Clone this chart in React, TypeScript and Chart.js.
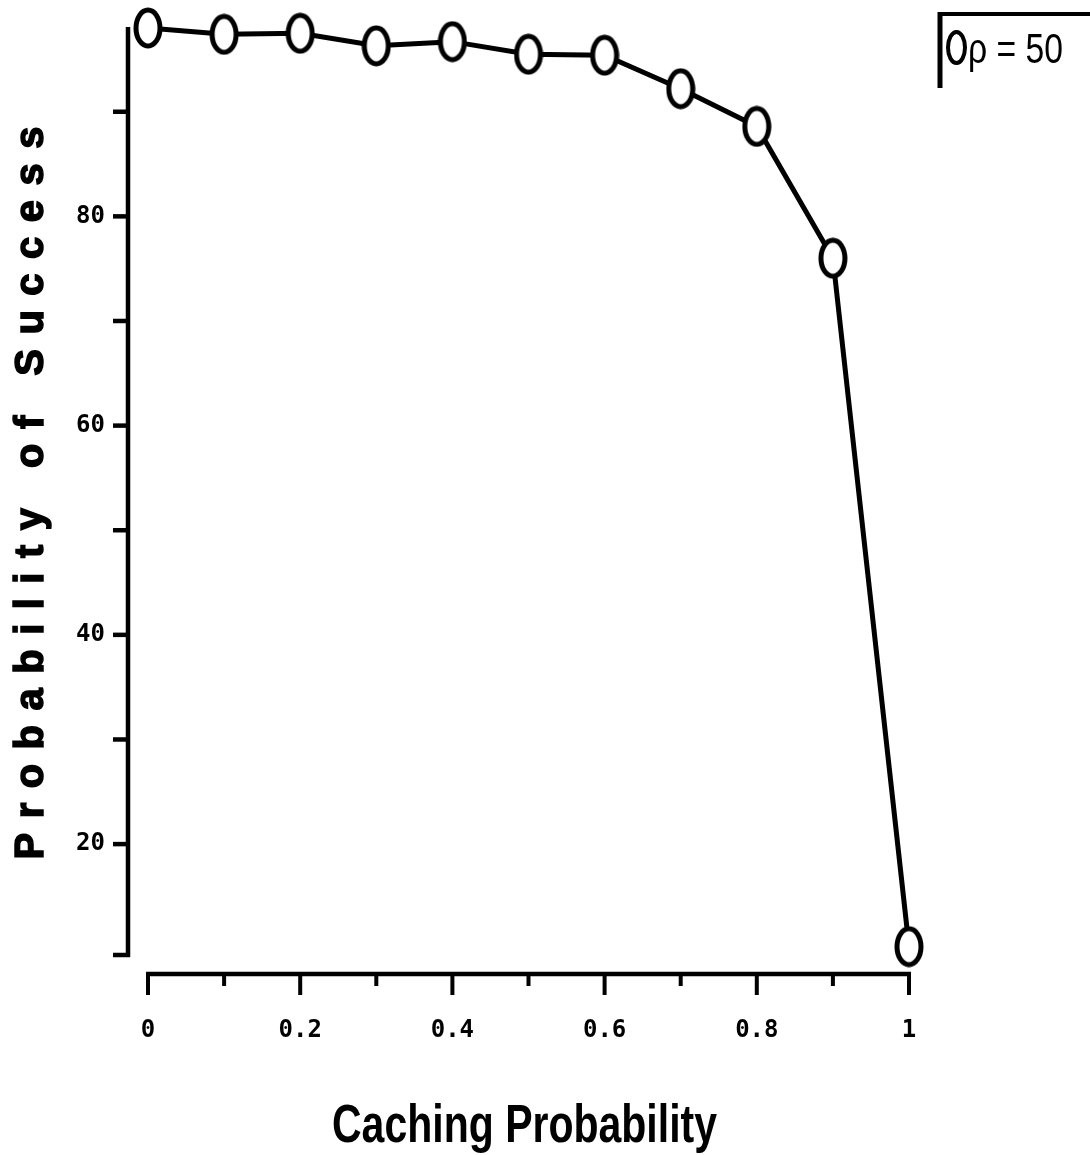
import React, { useEffect, useRef } from 'react';
import { Chart, registerables } from 'chart.js';

Chart.register(...registerables);

// ---- data ----
const cachingProbability = [0, 0.1, 0.2, 0.3, 0.4, 0.5, 0.6, 0.7, 0.8, 0.9, 1];
const successProbability = [98.0, 97.4, 97.5, 96.3, 96.7, 95.5, 95.4, 92.2, 88.6, 76.0, 10.2];

const xTickValues = [0, 0.1, 0.2, 0.3, 0.4, 0.5, 0.6, 0.7, 0.8, 0.9, 1];
const xTickLabels = ['0', '', '0.2', '', '0.4', '', '0.6', '', '0.8', '', '1'];
const yTickValues = [20, 30, 40, 50, 60, 70, 80, 90];
const yTickLabels = ['20', '', '40', '', '60', '', '80', ''];
const yMin = 9.4;
const yMax = 98.1;

const xTitle = 'Caching Probability';
const yTitle = 'Probability of Success';
const legendLabel = 'ρ = 50';

const W = 1090;
const H = 1155;

function makeEllipse(w: number, h: number, lw: number): HTMLCanvasElement {
  const c = document.createElement('canvas');
  c.width = w;
  c.height = h;
  const g = c.getContext('2d')!;
  g.beginPath();
  g.ellipse(w / 2, h / 2, w / 2 - lw / 2 - 0.5, h / 2 - lw / 2 - 0.5, 0, 0, Math.PI * 2);
  g.fillStyle = '#fff';
  g.fill();
  g.lineWidth = lw;
  g.strokeStyle = '#000';
  g.stroke();
  return c;
}

function line(ctx: CanvasRenderingContext2D, x1: number, y1: number, x2: number, y2: number, lw: number) {
  ctx.lineWidth = lw;
  ctx.beginPath();
  ctx.moveTo(x1, y1);
  ctx.lineTo(x2, y2);
  ctx.stroke();
}

const decorPlugin = {
  id: 'decor',
  beforeDraw(chart: any) {
    const ctx = chart.ctx as CanvasRenderingContext2D;
    ctx.save();
    ctx.fillStyle = '#fff';
    ctx.fillRect(0, 0, chart.width, chart.height);
    ctx.restore();
  },
  beforeDatasetsDraw(chart: any) {
    const ctx = chart.ctx as CanvasRenderingContext2D;
    const { chartArea } = chart;
    const xs = chart.scales.x;
    const ys = chart.scales.y;
    ctx.save();
    ctx.strokeStyle = '#000';
    ctx.lineCap = 'butt';

    // detached y axis
    const yAxisX = chartArea.left - 20;
    const yTop = ys.getPixelForValue(yMax);
    const yBot = ys.getPixelForValue(yMin);
    line(ctx, yAxisX, yTop, yAxisX, yBot + 2, 4.5);
    yTickValues.forEach((v) => {
      const py = ys.getPixelForValue(v);
      line(ctx, yAxisX - 15, py, yAxisX, py, 4.5);
    });
    line(ctx, yAxisX - 15, yBot, yAxisX + 2, yBot, 4.5);

    // detached x axis
    const xAxisY = chartArea.bottom + 19;
    const x0 = xs.getPixelForValue(xTickValues[0]);
    const x1 = xs.getPixelForValue(xTickValues[xTickValues.length - 1]);
    line(ctx, x0 - 2, xAxisY, x1 + 2, xAxisY, 4.5);
    xTickValues.forEach((v, i) => {
      const px = xs.getPixelForValue(v);
      const len = xTickLabels[i] ? 21 : 12;
      line(ctx, px, xAxisY, px, xAxisY + len, 4);
    });
    ctx.restore();
  },
  afterDraw(chart: any) {
    const ctx = chart.ctx as CanvasRenderingContext2D;
    ctx.save();
    ctx.fillStyle = '#000';
    ctx.strokeStyle = '#000';

    // y title: rotated, widely letter-spaced
    ctx.save();
    ctx.translate(43, 493);
    ctx.rotate(-Math.PI / 2);
    ctx.font = 'bold 40px "Liberation Sans", Arial, sans-serif';
    ctx.textAlign = 'left';
    ctx.textBaseline = 'alphabetic';
    const chars = Array.from(yTitle);
    const widths = chars.map((c) => ctx.measureText(c).width);
    const natural = widths.reduce((a, b) => a + b, 0);
    const target = 733;
    const gap = (target - natural) / (chars.length - 1);
    let cx = -target / 2;
    chars.forEach((c, i) => {
      ctx.fillText(c, cx, 0);
      ctx.lineWidth = 1.5;
      ctx.strokeText(c, cx, 0);
      cx += widths[i] + gap;
    });
    ctx.restore();

    // x title: condensed bold
    ctx.save();
    ctx.font = 'bold 53px "Liberation Sans", Arial, sans-serif';
    const tw = ctx.measureText(xTitle).width;
    ctx.translate(524.5, 1142);
    ctx.scale(385 / tw, 1);
    ctx.textAlign = 'center';
    ctx.textBaseline = 'alphabetic';
    ctx.fillText(xTitle, 0, 0);
    ctx.restore();

    // legend box (top + left edges only)
    ctx.lineCap = 'butt';
    line(ctx, 938, 14, 1090, 14, 4);
    line(ctx, 940, 12, 940, 88, 5);
    ctx.beginPath();
    ctx.ellipse(956.5, 47.5, 8.5, 15.5, 0, 0, Math.PI * 2);
    ctx.lineWidth = 4;
    ctx.stroke();
    ctx.save();
    ctx.font = '42px "Liberation Sans", Arial, sans-serif';
    const lw = ctx.measureText(legendLabel).width;
    ctx.translate(968, 63);
    ctx.scale(95 / lw, 1);
    ctx.textAlign = 'left';
    ctx.textBaseline = 'alphabetic';
    ctx.fillText(legendLabel, 0, 0);
    ctx.restore();

    ctx.restore();
  },
};

export default function App() {
  const ref = useRef<HTMLCanvasElement>(null);

  useEffect(() => {
    const canvas = ref.current;
    if (!canvas) return;
    const marker = makeEllipse(30, 42, 5);
    const tickFont = { family: '"DejaVu Sans Mono", monospace', weight: 'bold' as const, size: 24 };

    const chart = new Chart(canvas, {
      type: 'line',
      data: {
        datasets: [
          {
            label: legendLabel,
            data: cachingProbability.map((x, i) => ({ x, y: successProbability[i] })),
            borderColor: '#000',
            backgroundColor: '#fff',
            borderWidth: 5,
            pointStyle: marker as any,
            pointRadius: 16,
            tension: 0,
            clip: false as any,
          },
        ],
      },
      options: {
        animation: false,
        responsive: false,
        devicePixelRatio: 1,
        layout: { padding: { top: 27, right: 181, left: 0, bottom: 0 } },
        plugins: { legend: { display: false }, tooltip: { enabled: false } },
        scales: {
          x: {
            type: 'linear',
            min: 0,
            max: 1,
            afterBuildTicks: (s: any) => {
              s.ticks = xTickValues.map((v) => ({ value: v }));
            },
            afterFit: (s: any) => {
              s.height = 200;
              s.paddingLeft = 0;
              s.paddingRight = 0;
              s.paddingTop = 0;
              s.paddingBottom = 0;
            },
            grid: { display: false, drawTicks: false },
            border: { display: false },
            ticks: {
              autoSkip: false,
              maxRotation: 0,
              padding: 61,
              color: '#000',
              font: tickFont,
              callback: (_v: any, i: number) => xTickLabels[i],
            },
          },
          y: {
            type: 'linear',
            min: yMin,
            max: yMax,
            afterBuildTicks: (s: any) => {
              s.ticks = yTickValues.map((v) => ({ value: v }));
            },
            afterFit: (s: any) => {
              s.width = 148;
              s.paddingLeft = 0;
              s.paddingRight = 0;
              s.paddingTop = 0;
              s.paddingBottom = 0;
            },
            grid: { display: false, drawTicks: false },
            border: { display: false },
            ticks: {
              autoSkip: false,
              padding: 43,
              color: '#000',
              font: tickFont,
              callback: (_v: any, i: number) => yTickLabels[i],
            },
          },
        },
      },
      plugins: [decorPlugin],
    });
    return () => chart.destroy();
  }, []);

  return (
    <div style={{ position: 'absolute', left: 0, top: 0, width: W, height: H, background: '#fff' }}>
      <canvas ref={ref} width={W} height={H} style={{ width: W, height: H, display: 'block' }} />
    </div>
  );
}
